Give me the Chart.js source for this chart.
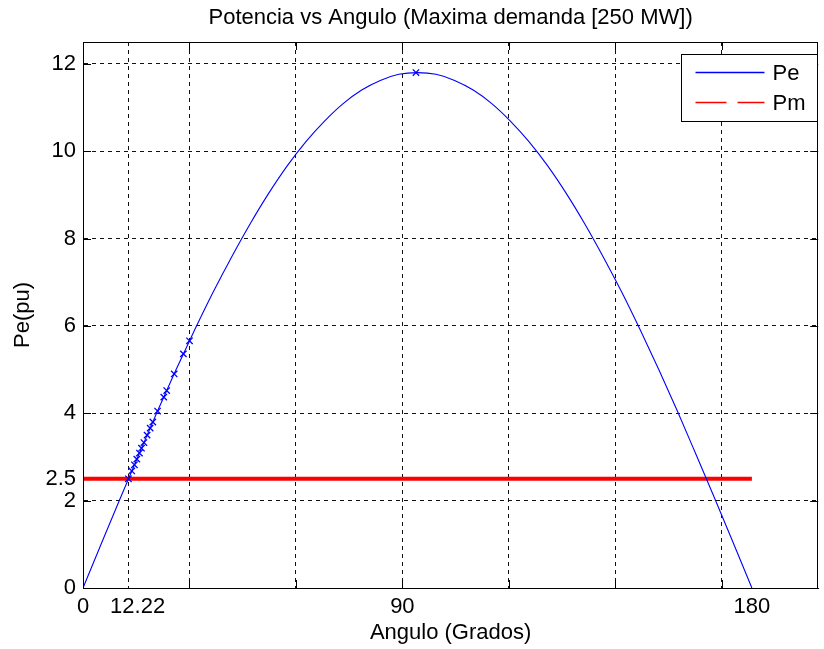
<!DOCTYPE html>
<html>
<head>
<meta charset="utf-8">
<title>Potencia vs Angulo</title>
<script src="https://cdn.jsdelivr.net/npm/chart.js@4/dist/chart.umd.min.js"></script>
<style>
  html, body { margin: 0; padding: 0; background: #fff; }
  canvas { display: block; }
</style>
</head>
<body>
<canvas id="chart" width="824" height="649"></canvas>
<script>
// Curva Pe (angulo en grados, potencia en pu)
const peAngles = [0, 5, 10, 15, 20, 25, 30, 35, 40, 45, 50, 55, 60, 65, 70, 75, 80, 85, 90,
  95, 100, 105, 110, 115, 120, 125, 130, 135, 140, 145, 150, 155, 160, 165, 170, 175, 180];
const peValues = [0, 1.03, 2.05, 3.05, 4.04, 4.99, 5.90, 6.77, 7.58, 8.34, 9.04, 9.67, 10.22, 10.69, 11.09, 11.40, 11.62, 11.76, 11.80,
  11.76, 11.62, 11.40, 11.09, 10.69, 10.22, 9.67, 9.04, 8.34, 7.58, 6.77, 5.90, 4.99, 4.04, 3.05, 2.05, 1.03, 0];

// Puntos marcados con "x"
const markAngles = [12.22, 13.13, 13.83, 14.48, 15.18, 15.74, 16.39, 17.25, 18.07, 18.79, 20.07, 21.74, 22.52, 24.54, 27.01, 28.66, 89.6];
const markValues = [2.50, 2.68, 2.82, 2.95, 3.09, 3.20, 3.33, 3.50, 3.66, 3.80, 4.05, 4.37, 4.52, 4.90, 5.36, 5.66, 11.80];

// Potencia mecanica Pm
const pmAngles = [0, 180];
const pmValues = [2.5, 2.5];

// Ejes (x en radianes)
const xGridTicks = [0.5, 1, 1.5, 2, 2.5, 3];
const xLabelPos = [0, 0.2133, 1.5, Math.PI];
const xTickLabels = ["0", "12.22", "90", "180"];
const yGridTicks = [2, 4, 6, 8, 10, 12];
const yTickValues = [0, 2, 2.5, 4, 6, 8, 10, 12];

const FONT = "'Liberation Sans', Arial, Helvetica, sans-serif";
const rad = d => d * Math.PI / 180;
const toPoints = (xs, ys) => xs.map((a, i) => ({ x: rad(a), y: ys[i] }));

const xTicks = [...new Set([...xLabelPos, ...xGridTicks])].sort((a, b) => a - b);

// Caja, marcas interiores y leyenda al estilo MATLAB
const matlabBox = {
  id: "matlabBox",
  afterDatasetsDraw(chart) {
    const { ctx, chartArea: a, scales: { x, y } } = chart;
    ctx.save();
    ctx.strokeStyle = "#000";
    ctx.lineWidth = 1;
    ctx.setLineDash([]);
    ctx.beginPath();
    xGridTicks.forEach(v => {
      const px = Math.round(x.getPixelForValue(v)) + 0.5;
      ctx.moveTo(px, a.bottom); ctx.lineTo(px, a.bottom - 8);
      ctx.moveTo(px, a.top); ctx.lineTo(px, a.top + 8);
    });
    yGridTicks.forEach(v => {
      const py = Math.round(y.getPixelForValue(v)) + 0.5;
      ctx.moveTo(a.left, py); ctx.lineTo(a.left + 8, py);
      ctx.moveTo(a.right, py); ctx.lineTo(a.right - 8, py);
    });
    ctx.stroke();
    ctx.strokeRect(Math.round(a.left) + 0.5, Math.round(a.top) + 0.5,
      Math.round(a.right - a.left) - 1, Math.round(a.bottom - a.top));

    // Leyenda
    const w = 136, h = 67;
    const lx = Math.round(a.right) - w - 0.5, ly = Math.round(a.top) + 12.5;
    ctx.fillStyle = "#fff";
    ctx.fillRect(lx, ly, w, h);
    ctx.strokeRect(lx, ly, w, h);
    ctx.font = "22px " + FONT;
    ctx.textBaseline = "middle";
    ctx.textAlign = "left";
    const items = chart.data.datasets.filter(d => d.legend);
    items.forEach((d, i) => {
      const yy = ly + 18 + i * 30;
      ctx.strokeStyle = d.borderColor;
      ctx.lineWidth = 1.5;
      ctx.setLineDash(d.legendDash || []);
      ctx.beginPath();
      ctx.moveTo(lx + 14, yy); ctx.lineTo(lx + 83, yy);
      ctx.stroke();
      ctx.setLineDash([]);
      ctx.fillStyle = "#000";
      ctx.fillText(d.label, lx + 91, yy + 1);
    });
    ctx.restore();
  }
};

new Chart(document.getElementById("chart"), {
  type: "scatter",
  data: {
    datasets: [
      {
        label: "x",
        data: toPoints(markAngles, markValues),
        showLine: false,
        pointStyle: "crossRot",
        pointRadius: 4.5,
        pointBorderWidth: 1.3,
        borderColor: "#0000ff",
        backgroundColor: "#0000ff",
        order: 0
      },
      {
        label: "Pe",
        legend: true,
        data: toPoints(peAngles, peValues),
        showLine: true,
        borderColor: "#0000ff",
        borderWidth: 1.1,
        pointRadius: 0,
        cubicInterpolationMode: "monotone",
        order: 1
      },
      {
        label: "Pm",
        legend: true,
        legendDash: [31, 11],
        data: toPoints(pmAngles, pmValues),
        showLine: true,
        borderColor: "#ff0000",
        borderWidth: 4,
        pointRadius: 0,
        order: 2
      }
    ]
  },
  options: {
    responsive: false,
    animation: false,
    devicePixelRatio: 1,
    layout: { padding: { left: 0, right: 2, top: 0, bottom: 0 } },
    plugins: {
      legend: { display: false },
      tooltip: { enabled: false },
      title: {
        display: true,
        fullSize: false,
        text: "Potencia vs Angulo (Maxima demanda [250 MW])",
        color: "#000",
        font: { family: FONT, size: 22, weight: "normal" },
        padding: { top: 5, bottom: 10.6 }
      }
    },
    scales: {
      x: {
        type: "linear",
        min: 0,
        max: 3.453,
        afterBuildTicks: s => { s.ticks = xTicks.map(v => ({ value: v })); },
        afterFit: s => { s.height = 61; },
        ticks: {
          autoSkip: false,
          maxRotation: 0,
          padding: 6,
          color: "#000",
          font: { family: FONT, size: 22 },
          callback: v => {
            const i = xLabelPos.findIndex(p => Math.abs(p - v) < 1e-6);
            if (i < 0) return "";
            return i === 1 ? "   " + xTickLabels[i] : xTickLabels[i];
          }
        },
        grid: {
          drawTicks: false,
          color: c => (c.tick && (c.tick.value === 0 || c.tick.value > 3.1)) ? "rgba(0,0,0,0)" : "#111",
          lineWidth: 1
        },
        border: { display: true, color: "#000", width: 1, dash: [4, 4] },
        title: {
          display: true,
          text: "Angulo (Grados)",
          color: "#000",
          font: { family: FONT, size: 22 },
          padding: { top: 0, bottom: 2.5 }
        }
      },
      y: {
        type: "linear",
        min: 0,
        max: 12.5,
        afterBuildTicks: s => { s.ticks = yTickValues.map(v => ({ value: v })); },
        afterFit: s => { s.width = 83; },
        ticks: {
          autoSkip: false,
          padding: 7,
          color: "#000",
          font: { family: FONT, size: 22 },
          callback: v => String(v)
        },
        grid: {
          drawTicks: false,
          color: c => (c.tick && (c.tick.value === 0 || c.tick.value === 2.5)) ? "rgba(0,0,0,0)" : "#111",
          lineWidth: 1
        },
        border: { display: true, color: "#000", width: 1, dash: [4, 4] },
        title: {
          display: true,
          text: "Pe(pu)",
          color: "#000",
          font: { family: FONT, size: 22 },
          padding: { top: 9.8, bottom: 0 }
        }
      }
    }
  },
  plugins: [matlabBox]
});
</script>
</body>
</html>
